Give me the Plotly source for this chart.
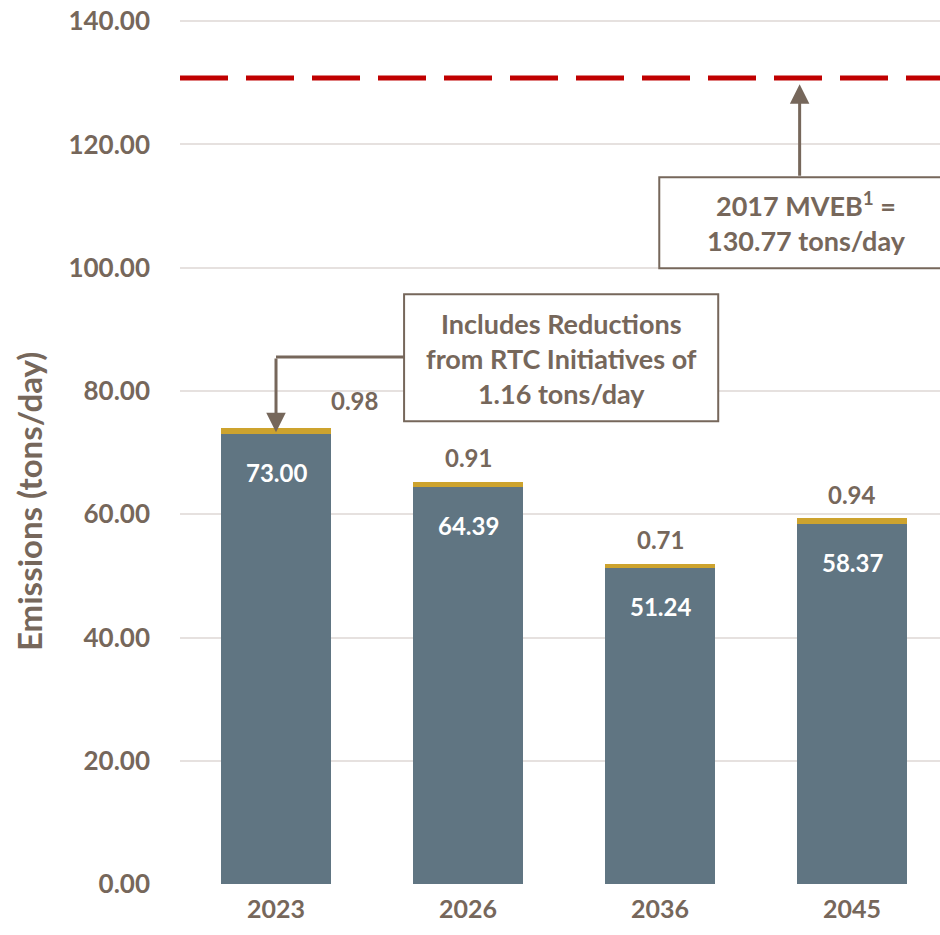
import plotly.graph_objects as go

years = ["2023", "2026", "2036", "2045"]
base_emissions = [73.00, 64.39, 51.24, 58.37]
rtc_reductions = [0.98, 0.91, 0.71, 0.94]
mveb_2017 = 130.77
y_ticks = [0, 20, 40, 60, 80, 100, 120, 140]

TXT = "#76675B"
BLUE = "#607582"
GOLD = "#CDA32E"
RED = "#C00000"
FONT = "Lato"

fig = go.Figure()
fig.add_trace(go.Bar(x=list(range(4)), y=base_emissions, marker=dict(color=BLUE, line=dict(width=0)),
                     width=0.57, hoverinfo="skip"))
fig.add_trace(go.Bar(x=list(range(4)), y=rtc_reductions, marker=dict(color=GOLD, line=dict(width=0)),
                     width=0.57, hoverinfo="skip"))

ann = []
# white labels inside blue bars
for i, v in enumerate(base_emissions):
    ann.append(dict(x=i, y=v, text=f"{v:.2f}", showarrow=False, yshift=-38,
                    font=dict(color="white", size=24, family=FONT, weight="bold")))
# gold labels above
for i, (b, r) in enumerate(zip(base_emissions, rtc_reductions)):
    xs = 78 if i == 0 else 0
    ys = 28 if i == 0 else 24
    ann.append(dict(x=i, y=b + r, text=f"{r:.2f}", showarrow=False, yshift=ys, xshift=xs,
                    font=dict(color=TXT, size=24, family=FONT, weight="bold")))

# y-axis title
ann.append(dict(xref="paper", yref="paper", x=-0.199, y=0.443, text="Emissions (tons/day)",
                textangle=-90, showarrow=False, xanchor="center", yanchor="middle",
                font=dict(size=33, color=TXT, family=FONT, weight="bold")))

# annotation box 1
ann.append(dict(x=1.485, y=85.3, text="Includes Reductions<br>from RTC Initiatives of<br>1.16 tons/day",
                showarrow=False, align="center",
                font=dict(color=TXT, size=27, family=FONT, weight="bold")))
# arrow 1 head
ann.append(dict(x=0, y=73.3, ax=0, ay=85.5, axref="x", ayref="y", xref="x", yref="y", text="",
                showarrow=True, arrowhead=2, arrowsize=1.3, arrowwidth=3, arrowcolor=TXT))
# annotation box 2
ann.append(dict(x=2.762, y=107.5, text="2017 MVEB<sup>1</sup> =<br>" + f"{mveb_2017:.2f} tons/day",
                showarrow=False, align="center",
                font=dict(color=TXT, size=27, family=FONT, weight="bold")))
ann.append(dict(x=2.727, y=mveb_2017 - 1.0, ax=2.727, ay=114.7, axref="x", ayref="y", xref="x", yref="y",
                text="", showarrow=True, arrowhead=2, arrowsize=1.3, arrowwidth=3, arrowcolor=TXT))

shapes = [
    dict(type="line", xref="paper", x0=0, x1=1, yref="y", y0=mveb_2017, y1=mveb_2017,
         line=dict(color=RED, width=5, dash="48px,18px"), layer="above"),
    dict(type="rect", xref="x", yref="y", x0=0.667, x1=2.303, y0=75.1, y1=95.7,
         line=dict(color=TXT, width=2), fillcolor="white", layer="above"),
    dict(type="line", xref="x", yref="y", x0=0, x1=0.667, y0=85.5, y1=85.5,
         line=dict(color=TXT, width=3)),
    dict(type="rect", xref="x", yref="y", x0=1.996, x1=3.7, y0=99.9, y1=114.7,
         line=dict(color=TXT, width=2), fillcolor="white", layer="above"),
]

fig.update_layout(
    barmode="stack",
    width=940, height=935,
    margin=dict(l=180, r=0, t=20, b=51),
    plot_bgcolor="white", paper_bgcolor="white",
    showlegend=False,
    font=dict(family=FONT, color=TXT),
    xaxis=dict(range=[-0.5, 3.458], tickmode="array", tickvals=list(range(4)), ticktext=years,
               showgrid=False, zeroline=False, showline=False, ticks="", ticklabelstandoff=8,
               tickfont=dict(size=25, color=TXT, family=FONT, weight="bold")),
    yaxis=dict(range=[0, 140.2], tickvals=y_ticks, ticktext=[f"{t:.2f}" for t in y_ticks],
               showgrid=True, gridcolor="#E6E1DF", gridwidth=2, zeroline=False, showline=False,
               ticks="", ticklabelstandoff=29,
               tickfont=dict(size=26, color=TXT, family=FONT, weight="bold")),
    annotations=ann,
    shapes=shapes,
)

fig.write_html("out.html", config={"displayModeBar": False},
               post_script="document.body.style.margin='0px';")
